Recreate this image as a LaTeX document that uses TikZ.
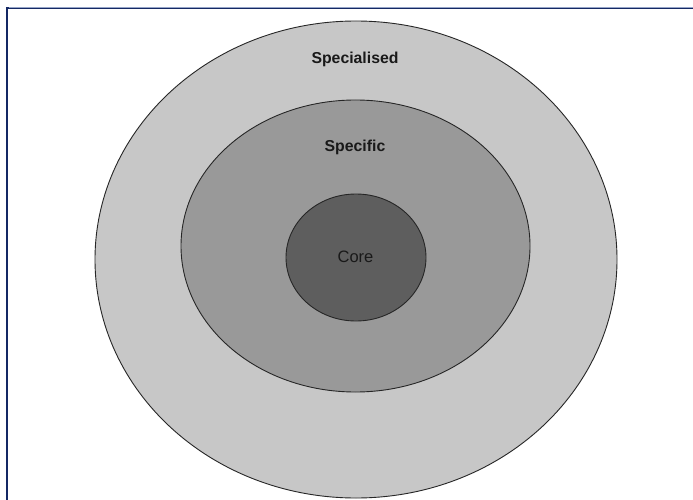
\documentclass[tikz,border=0pt]{standalone}
\usetikzlibrary{shapes.geometric}
\usepackage{fontspec}
\setmainfont{Liberation Sans}
\begin{document}
\begin{tikzpicture}[x=1pt,y=-1pt,
  ring/.style={draw=black!85,line width=0.9pt,ellipse,inner sep=0},
  lbl/.style={font=\bfseries\fontsize{15.8}{18}\selectfont,text=black!90}]
\useasboundingbox (0,0) rectangle (693,500);
\fill[white] (0,0) rectangle (693,500);
% frame (top and left edges visible)
\draw[draw={rgb,255:red,20;green,40;blue,100},line width=2.2pt] (7,500) -- (7,8) -- (693,8);
\draw[draw={rgb,255:red,150;green,165;blue,200},line width=0.6pt] (8.5,7) -- (693,7);
% rings
\node[ring,fill=black!22,minimum width=522,minimum height=477] (outer) at (356,259.5) {};
\node[ring,fill=black!40,minimum width=349,minimum height=292] (middle) at (355.5,246) {};
\node[ring,fill=black!63,minimum width=140,minimum height=127] (inner) at (356,257.5) {};
% labels
\node[lbl] (lspec) at (355,59) {Specialised};
\node[lbl] (lspecific) at (355,147) {Specific};
\node[lbl,font=\fontsize{16.5}{18}\selectfont] (lcore) at (355.5,257) {Core};
\end{tikzpicture}
\end{document}
